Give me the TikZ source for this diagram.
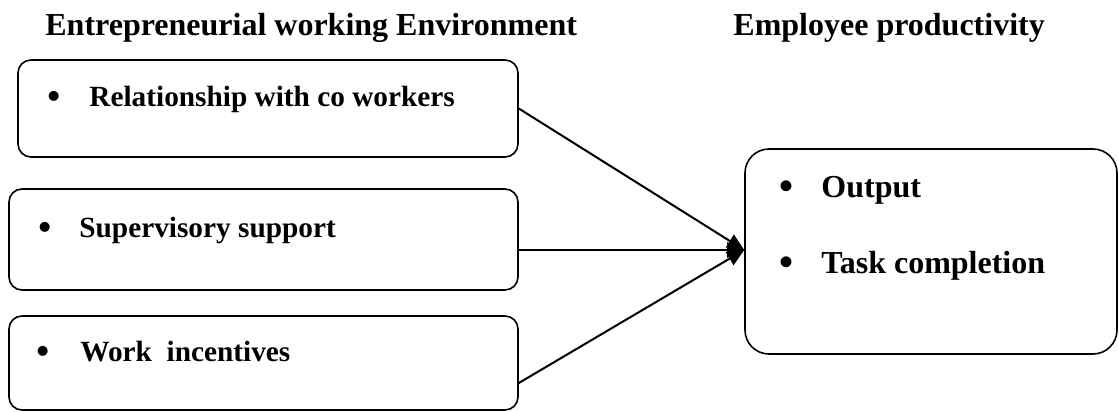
\documentclass[tikz,border=0pt]{standalone}
\usepackage{fontspec}
\setmainfont{Liberation Serif}
\usetikzlibrary{arrows.meta,calc}
\newcommand{\bigbul}{\raisebox{-1.1pt}{\scalebox{1.25}{\textbullet}}}
\begin{document}
\begin{tikzpicture}[x=0.5pt,y=-0.5pt,
  box/.style={draw,line width=0.8pt,rounded corners=6.5pt,inner sep=0pt},
  bigbox/.style={draw,line width=0.8pt,rounded corners=12pt,inner sep=0pt},
  title/.style={inner sep=0pt,anchor=base west,font=\fontsize{16pt}{19pt}\selectfont\bfseries},
  item/.style={inner sep=0pt,anchor=base west,font=\fontsize{14.65pt}{17pt}\selectfont\bfseries},
  bigitem/.style={inner sep=0pt,anchor=base west,font=\fontsize{16pt}{19pt}\selectfont\bfseries},
  conn/.style={line width=1pt,-{Triangle[length=8.5pt,width=7.5pt]}}]
\useasboundingbox (0,0) rectangle (1119,412);
% titles
\node[title] (t1) at (45,35) {Entrepreneurial working Environment};
\node[title] (t2) at (733,35) {Employee productivity};
% boxes
\node[box,minimum width=250pt,minimum height=48.5pt] (b1) at (268,108.5) {};
\node[box,minimum width=254.5pt,minimum height=50.5pt] (b2) at (263.5,239.5) {};
\node[box,minimum width=254.5pt,minimum height=47pt] (b3) at (263.5,363) {};
\node[bigbox,minimum width=186pt,minimum height=102.5pt] (r) at (931,251.5) {};
% texts
\node[item] (i1) at (47,106) {\makebox[21pt][l]{\bigbul}Relationship with co workers};
\node[item] (i2) at (38,237) {\makebox[20.5pt][l]{\bigbul}Supervisory support};
\node[item] (i3) at (36,361) {\makebox[22pt][l]{\bigbul}Work\ \ incentives};
\node[bigitem] (o1) at (779,197) {\makebox[21pt][l]{\bigbul}Output};
\node[bigitem] (o2) at (779,273) {\makebox[21pt][l]{\bigbul}Task completion};
% connectors
\coordinate (tip) at ($(r.west)+(0,-1.5)$);
\draw[conn] (b1.east) -- (tip);
\draw[conn] ($(b2.east)+(0,10.5)$) -- (tip);
\draw[conn] ($(b3.east)+(0,20)$) -- (tip);
\end{tikzpicture}
\end{document}
